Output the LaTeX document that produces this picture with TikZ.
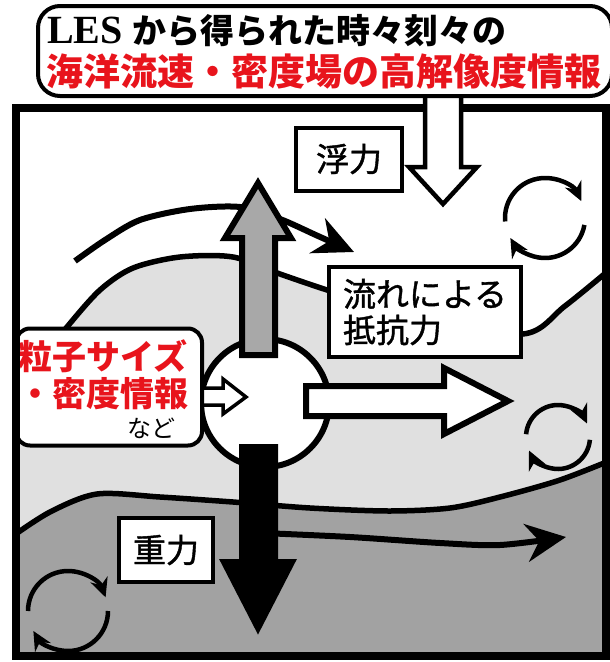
\documentclass[tikz,border=0pt]{standalone}
\usepackage{fontspec}
\usetikzlibrary{arrows.meta}
\newfontfamily\jpfont{Noto Sans CJK JP}
\newfontfamily\labelfont{Noto Sans CJK JP}[FakeBold=1.2]
\newfontfamily\lesfont{Liberation Serif}
\definecolor{lightsea}{HTML}{E0E0E0}
\definecolor{deepsea}{HTML}{A2A2A2}
\definecolor{risegray}{HTML}{A8A8A8}
\definecolor{infored}{HTML}{E8141C}

\begin{document}
\begin{tikzpicture}[x=1pt, y=-1pt,
    labelbox/.style={draw, line width=4pt, fill=white, inner sep=0pt,
        font=\labelfont\fontsize{33}{36}\selectfont},
    flowline/.style={line width=6pt, -{Stealth[length=40pt, width=38pt]}},
    swirl/.style={line width=4.5pt, -{Stealth[length=19pt, width=18pt]}},
    bigarrow/.style={line width=6pt, line join=miter}]
    \useasboundingbox (0,0) rectangle (610,662);
    % Water layers
    \begin{scope}
        \clip (16,108) rectangle (606,656);
        \fill[lightsea] plot[smooth] coordinates {(10,405) (40,362) (67,327) (100,290)
            (133,268) (180,257) (233,257) (280,274) (327,290) (420,320) (523,334)
            (565,306) (614,266)} -- (620,670) -- (0,670) -- cycle;
        \fill[deepsea] plot[smooth] coordinates {(10,538) (50,512) (97,494) (160,497)
            (233,502) (310,508) (389,511) (450,508) (500,497) (560,480) (614,459)}
            -- (620,670) -- (0,670) -- cycle;
        % Layer boundaries
        \draw[line width=5.5pt] plot[smooth] coordinates {(10,405) (40,362) (67,327)
            (100,290) (133,268) (180,257) (233,257) (280,274) (327,290) (420,320)
            (523,334) (565,306) (614,266)};
        \draw[line width=5.5pt] plot[smooth] coordinates {(10,538) (50,512) (97,494)
            (160,497) (233,502) (310,508) (389,511) (450,508) (500,497) (560,480)
            (614,459)};
    \end{scope}
    % Currents
    \draw[flowline] plot[smooth] coordinates {(75,261) (105,240) (140,220) (190,209)
        (240,207) (280,219) (318,236) (354,252)};
    \draw[flowline] plot[smooth] coordinates {(262,533) (350,537) (440,543) (500,545)
        (566,537)};
    % Eddies
    \draw[swirl] (545,218) ++(-185:40) arc[start angle=-185, end angle=-25, radius=40];
    \draw[swirl] (545,218) ++(10:40) arc[start angle=10, end angle=150, radius=40];
    \draw[swirl] (558,437) ++(-175:32) arc[start angle=-175, end angle=-25, radius=32];
    \draw[swirl] (558,437) ++(5:32) arc[start angle=5, end angle=155, radius=32];
    \draw[swirl] (68,611) ++(-180:40) arc[start angle=-180, end angle=-20, radius=40];
    \draw[swirl] (68,611) ++(0:40) arc[start angle=0, end angle=150, radius=40];
    % Particle
    \draw[line width=6pt, fill=white] (265,403) circle[radius=64];
    % Forces
    \filldraw[bigarrow, fill=risegray] (242,355) -- (242,238) -- (225,238) -- (258,183)
        -- (291,238) -- (275,238) -- (275,355) -- cycle;
    \filldraw[bigarrow, fill=black] (242,447) -- (242,562) -- (224,562) -- (258,628)
        -- (292,562) -- (275,562) -- (275,447) -- cycle;
    \filldraw[bigarrow, fill=white] (306,386) -- (444,386) -- (444,368) -- (508,401)
        -- (444,434) -- (444,416) -- (306,416) -- cycle;
    \filldraw[line width=3.5pt, fill=white] (200,388) -- (223,388) -- (223,379)
        -- (246,397) -- (223,414) -- (223,405) -- (200,405) -- cycle;
    % Labels
    \node[labelbox, minimum width=106, minimum height=63] (buoyancy) at (349,159) {浮力};
    \node[labelbox, minimum width=192, minimum height=90, align=left] (drag)
        at (425,312) {流れによる\\抵抗力};
    \node[labelbox, minimum width=94, minimum height=64] (gravity) at (166,550) {重力};
    \node[labelbox, rounded corners=14pt, minimum width=186, minimum height=117]
        (particle) at (109,387) {};
    \node[anchor=west, inner sep=0pt, text=infored,
        font=\jpfont\bfseries\fontsize{34}{34}\selectfont] (sizeinfo) at (18,356) {粒子サイズ};
    \node[anchor=west, inner sep=0pt, text=infored,
        font=\jpfont\bfseries\fontsize{34}{34}\selectfont] (densinfo) at (18,394) {・密度情報};
    \node[anchor=east, inner sep=0pt, font=\jpfont\fontsize{24}{24}\selectfont]
        (etc) at (176,428) {など};
    % Frame
    \draw[line width=8pt] (16,108) rectangle (606,656);
    % Buoyancy input from LES
    \filldraw[line width=4.5pt, fill=white] (425,90) -- (425,167) -- (409,167)
        -- (443,204) -- (477,167) -- (461,167) -- (461,90);
    \node[draw, line width=4pt, fill=white, rounded corners=22pt, minimum width=574,
        minimum height=90, inner sep=0pt] (lesbox) at (325,51) {};
    \node[anchor=west, inner sep=0pt] (lesline) at (47,31)
        {{\lesfont\bfseries\fontsize{40}{40}\selectfont LES}\hspace{10pt}{\jpfont\bfseries\fontsize{34}{34}\selectfont から得られた時々刻々の}};
    \node[anchor=west, inner sep=0pt, text=infored,
        font=\jpfont\bfseries\fontsize{37}{37}\selectfont] (redline) at (46,71)
        {海洋流速・密度場の高解像度情報};
\end{tikzpicture}
\end{document}
